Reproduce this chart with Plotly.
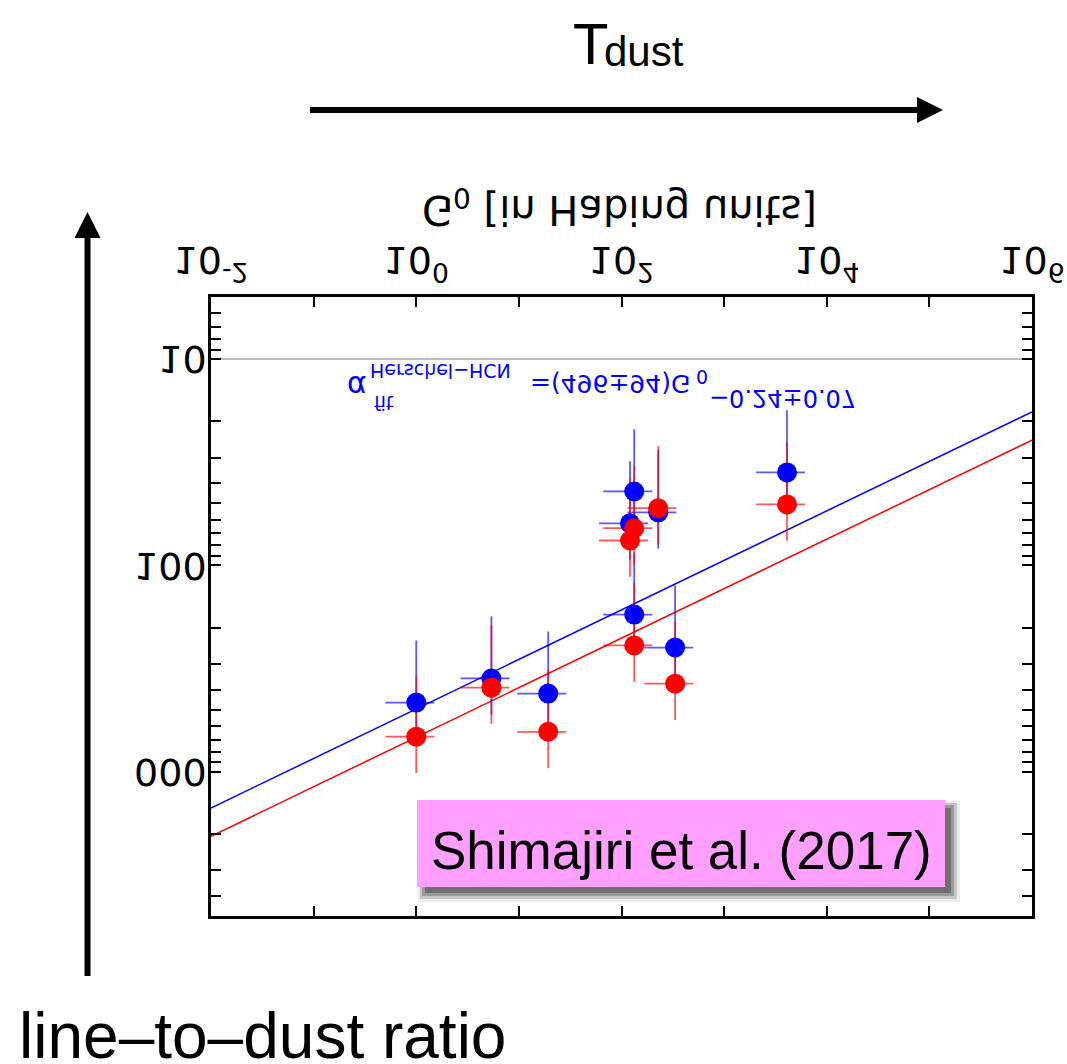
import json
import math
import plotly.graph_objects as go

# ---- data -------------------------------------------------------------
g0 = [1.0, 5.4, 19.3, 133, 121, 228, 133, 333, 4100]          # G0 [Habing]
ratio_blue = [462, 353, 418, 43.8, 62.5, 55.3, 173, 250, 35.4]
ratio_red = [676, 391, 640, 66, 75.7, 52.8, 244, 374, 50.6]
err_pct = 50                                                   # relative errors (both axes)

fit_blue = (496, -0.24)   # amplitude, power-law index
fit_red = (680, -0.24)
fit_x = [1e-2, 1e6]

x_tickvals = [1e-2, 1, 1e2, 1e4, 1e6]
x_ticktext = ["10<sup>-2</sup>", "10<sup>0</sup>", "10<sup>2</sup>",
              "10<sup>4</sup>", "10<sup>6</sup>"]
x_minor = [1e-1, 1e1, 1e3, 1e5]
y_tickvals = [10, 100, 1000]
y_ticktext = ["10", "100", "1000"]
y_minor = [6, 7, 8, 9, 20, 30, 40, 50, 60, 70, 80, 90,
           200, 300, 400, 500, 600, 700, 800, 900, 2000, 3000, 4000]

# ---- page geometry (pixels) ------------------------------------------
W, H = 1067, 1064
L, R, T, B = 211, 1032, 297, 916


def px(x):
    return (x - L) / (R - L)


def py(y):
    return (B - y) / (B - T)


IDL_FAMILY = "DejaVu Sans, sans-serif"
SANS = "Liberation Sans, Arial, Helvetica, sans-serif"
BLUE = "#0000FF"
RED = "#FF0000"

fig = go.Figure()

# reference level at 10
fig.add_trace(go.Scatter(x=fit_x, y=[10, 10], mode="lines",
                         line=dict(color="#bdbdbd", width=2), hoverinfo="skip"))

# power-law fits
for (amp, idx), col in ((fit_blue, BLUE), (fit_red, RED)):
    fig.add_trace(go.Scatter(x=fit_x, y=[amp * v ** idx for v in fit_x], mode="lines",
                             line=dict(color=col, width=1.5), hoverinfo="skip"))

# error bars first, markers afterwards so every dot sits on top
for vals, col in ((ratio_blue, "rgba(0,0,255,0.65)"), (ratio_red, "rgba(255,0,0,0.65)")):
    fig.add_trace(go.Scatter(
        x=g0, y=vals, mode="markers", marker=dict(size=4, opacity=0),
        error_x=dict(type="percent", value=err_pct, color=col, thickness=1.8, width=0),
        error_y=dict(type="percent", value=err_pct, color=col, thickness=1.8, width=0),
        hoverinfo="skip"))
for vals, col in ((ratio_blue, BLUE), (ratio_red, RED)):
    fig.add_trace(go.Scatter(x=g0, y=vals, mode="markers",
                             marker=dict(size=20, color=col, line=dict(width=0))))

# ---- shapes -----------------------------------------------------------
shapes = []


def rect(x0, y0, x1, y1, fill):
    shapes.append(dict(type="rect", xref="paper", yref="paper", layer="above",
                       x0=px(x0), x1=px(x1), y0=py(y1), y1=py(y0),
                       fillcolor=fill, line=dict(width=0)))


def seg(x0, y0, x1, y1, width):
    shapes.append(dict(type="line", xref="paper", yref="paper", layer="above",
                       x0=px(x0), x1=px(x1), y0=py(y0), y1=py(y1),
                       line=dict(color="black", width=width)))


def tri(pts):
    path = "M " + " L ".join(f"{px(a):.5f},{py(b):.5f}" for a, b in pts) + " Z"
    shapes.append(dict(type="path", xref="paper", yref="paper", layer="above",
                       path=path, fillcolor="black", line=dict(width=0)))


# left edge of the pasted plot (hides the leading digit of the lowest label)
rect(93, 748, 131, 796, "white")

# T_dust arrow
seg(310, 110, 920, 110, 6)
tri([(917, 97), (943, 110), (917, 123)])
# line-to-dust arrow
seg(87.5, 976, 87.5, 234, 6)
tri([(74.5, 238), (87.5, 212), (100.5, 238)])

# label box with soft drop shadow
rect(418, 801, 960, 902, "rgba(180,180,180,0.25)")
rect(420, 803, 957, 899, "rgba(130,130,130,0.35)")
rect(422, 805, 954, 896, "rgba(100,100,100,0.45)")
rect(425, 808, 951, 893, "rgba(70,70,70,0.5)")
rect(417, 800, 945, 887, "#FF9FFF")

# ---- text -------------------------------------------------------------
annotations = []
flip_idx = []


def text(s, x, y, size, color="black", family=SANS, anchor="left", flip=False):
    if flip:
        flip_idx.append(len(annotations))
    annotations.append(dict(text=s, x=px(x), y=py(y), xref="paper", yref="paper",
                            xanchor=anchor, yanchor="middle", showarrow=False,
                            font=dict(family=family, size=size, color=color),
                            borderpad=0))


text("T", 572, 43, 58)
text("dust", 603, 52, 42)
text("line–to–dust ratio", 18, 1036, 64)
text("Shimajiri et al. (2017)", 681, 850, 53, anchor="center")

# axis title and fit relation (IDL plot text, mirrored)
text("G<sub>0</sub> [in Habing units]", 619, 207, 40, family=IDL_FAMILY, anchor="center",
     flip=True)
text("α", 346, 386, 30, color=BLUE, family=IDL_FAMILY, flip=True)
text("Herschel−HCN", 369, 371, 19, color=BLUE, family=IDL_FAMILY, flip=True)
text("fit", 373, 403, 19, color=BLUE, family=IDL_FAMILY, flip=True)
text("=(496±94)G", 529, 383, 25, color=BLUE, family=IDL_FAMILY, flip=True)
text("0", 695, 377, 19, color=BLUE, family=IDL_FAMILY, flip=True)
text("−0.24±0.07", 708, 398, 24, color=BLUE, family=IDL_FAMILY, flip=True)

axis_common = dict(type="log", showgrid=False, zeroline=False, showline=True,
                   linecolor="black", linewidth=2.5, mirror="ticks",
                   ticks="inside", ticklen=10, tickwidth=2, tickcolor="black",
                   automargin=False,
                   tickfont=dict(family=IDL_FAMILY, size=38, color="black"))

fig.update_layout(
    width=W, height=H,
    margin=dict(l=L, r=W - R, t=T, b=H - B, pad=0, autoexpand=False),
    paper_bgcolor="white", plot_bgcolor="white",
    showlegend=False,
    xaxis=dict(axis_common, side="top", range=[-2, 6],
               tickmode="array", tickvals=x_tickvals, ticktext=x_ticktext,
               ticklabelstandoff=0,
               minor=dict(tickmode="array", tickvals=x_minor, ticks="inside",
                          ticklen=10, tickwidth=2, tickcolor="black")),
    yaxis=dict(axis_common, range=[math.log10(5000), math.log10(5)],
               tickmode="array", tickvals=y_tickvals, ticktext=y_ticktext,
               ticklabelstandoff=-6,
               minor=dict(tickmode="array", tickvals=y_minor, ticks="inside",
                          ticklen=10, tickwidth=2, tickcolor="black")),
    shapes=shapes,
    annotations=annotations,
)

# the IDL plot text is mirrored top-to-bottom: flip each label about its own centre
flip_js = """
(function(){
  var gd = document.getElementById('{plot_id}');
  function flip(el){
    var bb = el.getBBox();
    var c = bb.y + bb.height / 2;
    var t = el.getAttribute('transform') || '';
    el.setAttribute('transform', t + ' translate(0,' + (2 * c) + ') scale(1,-1)');
  }
  gd.querySelectorAll('.xtick text, .ytick text').forEach(flip);
  FLIP_IDX.forEach(function(i){
    var el = gd.querySelector('.annotation[data-index="' + i + '"] text');
    if (el) flip(el);
  });
})();
""".replace("FLIP_IDX", json.dumps(flip_idx))

fig.write_html("out.html", post_script=flip_js, config={"displayModeBar": False})
